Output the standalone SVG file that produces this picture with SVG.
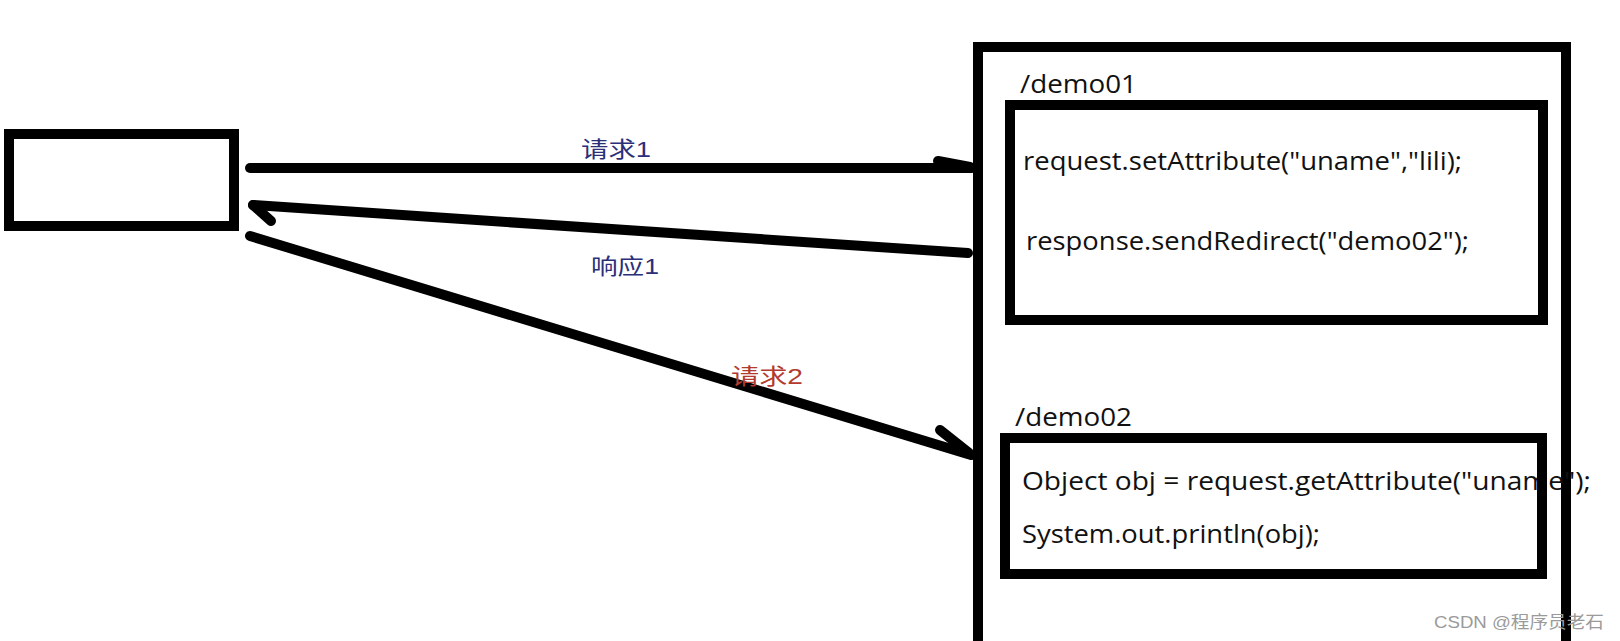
<svg xmlns="http://www.w3.org/2000/svg" width="1620" height="641" viewBox="0 0 1620 641">
<style>
.box{fill:none;stroke:#000;stroke-width:10}
.ln{fill:none;stroke:#000;stroke-width:10;stroke-linecap:round}
.code{font-family:"Open Sans","Liberation Sans",sans-serif;font-size:25px;fill:#111}
.lbl{font-family:"Liberation Sans","Noto Sans CJK SC",sans-serif;font-size:22px}
.blue{fill:#2b2f7a}
.red{fill:#b23a2e}
.wm{font-family:"Liberation Sans","Noto Sans CJK SC",sans-serif;font-size:17px;fill:#9a9a9a}
</style>
<rect width="1620" height="641" fill="#fff"/>
<g id="client">
<rect class="box" x="9" y="134" width="225" height="92"/>
</g>
<g id="server">
<rect class="box" x="978" y="47" width="588" height="620"/>
</g>
<g id="demo01">
<text class="code" x="1020" y="93" textLength="117" lengthAdjust="spacingAndGlyphs">/demo01</text>
<text class="code" x="1023" y="170" textLength="439" lengthAdjust="spacingAndGlyphs">request.setAttribute("uname","lili);</text>
<text class="code" x="1026" y="250" textLength="443" lengthAdjust="spacingAndGlyphs">response.sendRedirect("demo02");</text>
<rect class="box" x="1010" y="105" width="533" height="215"/>
</g>
<g id="demo02">
<text class="code" x="1015" y="426" textLength="117" lengthAdjust="spacingAndGlyphs">/demo02</text>
<text class="code" x="1022" y="490" textLength="569" lengthAdjust="spacingAndGlyphs">Object obj = request.getAttribute("uname");</text>
<text class="code" x="1022" y="543" textLength="298" lengthAdjust="spacingAndGlyphs">System.out.println(obj);</text>
<rect class="box" x="1005" y="438" width="537" height="136"/>
</g>
<g id="connectors">
<line class="ln" x1="250" y1="168" x2="972" y2="168"/>
<line class="ln" x1="938" y1="161" x2="970" y2="167"/>
<line class="ln" x1="968" y1="253" x2="253" y2="205"/>
<line class="ln" x1="253" y1="205" x2="271" y2="221"/>
<line class="ln" x1="250" y1="236" x2="971" y2="455"/>
<line class="ln" x1="940" y1="430" x2="969" y2="453"/>
<text class="lbl blue" x="581" y="157" textLength="70" lengthAdjust="spacingAndGlyphs">请求1</text>
<text class="lbl blue" x="591" y="274" textLength="68" lengthAdjust="spacingAndGlyphs">响应1</text>
<text class="lbl red" x="731" y="384" textLength="72" lengthAdjust="spacingAndGlyphs">请求2</text>
</g>
<text class="wm" x="1434" y="628" textLength="170" lengthAdjust="spacingAndGlyphs">CSDN @程序员老石</text>
</svg>
